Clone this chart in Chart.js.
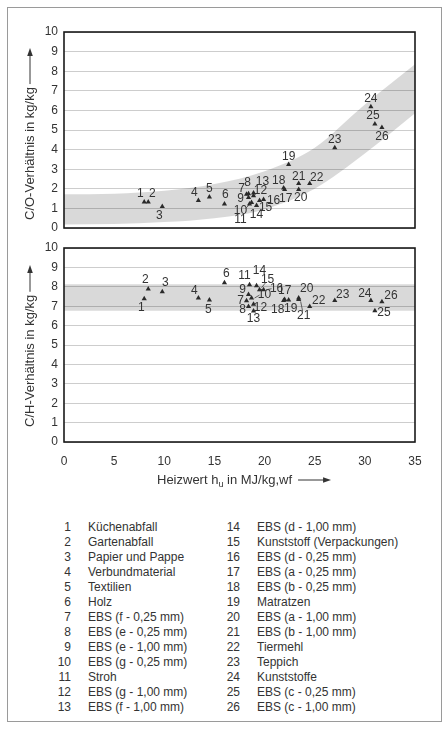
<!DOCTYPE html>
<html>
<head>
<meta charset="utf-8">
<script src="https://cdn.jsdelivr.net/npm/chart.js@4/dist/chart.umd.min.js"></script>
<style>
  body { margin: 0; background: #fff; }
  #page { position: relative; width: 445px; height: 729px; overflow: hidden; font-family: "Liberation Sans", Arial, sans-serif; color: #333; }
  #frame { position: absolute; left: 7px; top: 7px; width: 435px; height: 715px; border: 1px solid #9a9a9a; box-sizing: border-box; }
  canvas { position: absolute; left: 0; }
  #legend { position: absolute; left: 0; top: 520px; font-size: 12px; line-height: 15px; }
  .row { position: absolute; white-space: nowrap; }
  .num { position: absolute; text-align: right; width: 24px; }
  .name { position: absolute; }
</style>
</head>
<body>
<div id="page">
  <div id="frame"></div>
  <canvas id="coChart" width="445" height="240" style="top:0"></canvas>
  <canvas id="chChart" width="445" height="266" style="top:234px"></canvas>
  <div id="legend"></div>
</div>
<script>
// heating value per material (MJ/kg, wf)
const heizwert = [8.0, 8.4, 9.8, 13.4, 14.5, 16.0, 18.2, 18.4, 18.4, 18.7, 18.5, 18.9, 18.9, 19.2, 19.5, 19.9, 22.0, 21.9, 22.4, 23.4, 23.4, 24.5, 27.0, 30.6, 31.0, 31.7];
// C/O ratio (top chart)
const coRatio = [1.33, 1.33, 1.10, 1.40, 1.58, 1.22, 1.72, 1.75, 1.55, 1.30, 1.22, 1.65, 1.78, 1.15, 1.40, 1.45, 1.96, 2.04, 3.24, 1.96, 2.27, 2.27, 4.09, 6.18, 5.30, 5.13];
// C/H ratio (bottom chart)
const chRatio = [7.39, 7.89, 7.75, 7.42, 7.32, 8.21, 7.28, 6.98, 7.60, 7.42, 8.10, 7.10, 6.75, 8.05, 7.85, 7.85, 7.34, 7.30, 7.32, 7.42, 7.35, 6.99, 7.30, 7.30, 6.77, 7.23];

// grey bands
const coBandX = [0, 5, 10, 15, 20, 25, 30, 35];
const coBandUpper = [1.72, 1.75, 1.9, 2.25, 2.9, 4.1, 6.3, 8.35];
const coBandLower = [0.18, 0.2, 0.3, 0.5, 0.95, 2.0, 3.8, 5.85];
const chBandX = [0, 35];
const chBandUpper = [8.13, 8.13];
const chBandLower = [6.77, 6.77];

const xTicks = [0, 5, 10, 15, 20, 25, 30, 35];
const yTicks = [0, 1, 2, 3, 4, 5, 6, 7, 8, 9, 10];

const materials = [
  "Küchenabfall", "Gartenabfall", "Papier und Pappe", "Verbundmaterial", "Textilien", "Holz",
  "EBS (f - 0,25 mm)", "EBS (e - 0,25 mm)", "EBS (e - 1,00 mm)", "EBS (g - 0,25 mm)", "Stroh",
  "EBS (g - 1,00 mm)", "EBS (f - 1,00 mm)", "EBS (d - 1,00 mm)", "Kunststoff (Verpackungen)",
  "EBS (d - 0,25 mm)", "EBS (a - 0,25 mm)", "EBS (b - 0,25 mm)", "Matratzen", "EBS (a - 1,00 mm)",
  "EBS (b - 1,00 mm)", "Tiermehl", "Teppich", "Kunststoffe", "EBS (c - 0,25 mm)", "EBS (c - 1,00 mm)"
];

// label offsets (px) from each triangle
const coLabelPos = [
  [-4, -8], [4, -8], [-3, 9], [-4, -8], [0, -8], [1, -9], [-5, -6], [-1, -11], [-8, 1], [-11, 8],
  [-9, 16], [7, -5], [9, -11], [0, 9], [6, 7], [10, 1], [1, 9], [-5, -7], [0, -8], [2, 8],
  [0, -7], [7, -6], [0, -8], [0, -8], [-2, -8], [0, 9]
];
const chLabelPos = [
  [-3, 9], [-3, -9], [3, -9], [-4, -7], [-1, 10], [2, -9], [-6, 0], [-6, 3], [-6, -5], [13, -3],
  [-5, -9], [7, 3], [0, 8], [3, -15], [8, -10], [13, -1], [0, -9], [-6, 9], [2, 9], [8, -9],
  [5, 16], [9, -6], [8, -6], [-6, -7], [9, 2], [9, -6]
];
// small leader strokes [index, x0, y0, x1, y1] relative to the triangle
const coLeaders = [[9, -2, 2, -6, 6]];
const chLeaders = [[9, 3, 0, 8, -3], [14, 2, -2, 6, -7], [15, 3, 0, 8, -1], [20, 2, 2, 4, 12]];

const textColor = '#333333';

const frameAndLabels = {
  id: 'frameAndLabels',
  afterDatasetsDraw(chart, args, opts) {
    const { ctx, chartArea: a } = chart;
    const meta = chart.getDatasetMeta(2);
    ctx.save();
    ctx.fillStyle = textColor;
    ctx.font = '12px "Liberation Sans", Arial, sans-serif';
    ctx.textAlign = 'center';
    ctx.textBaseline = 'middle';
    meta.data.forEach((el, i) => {
      const off = opts.labelPos[i];
      ctx.fillText(String(i + 1), el.x + off[0], el.y + off[1]);
    });
    ctx.strokeStyle = '#444';
    ctx.lineWidth = 0.8;
    opts.leaders.forEach(l => {
      const el = meta.data[l[0]];
      ctx.beginPath();
      ctx.moveTo(el.x + l[1], el.y + l[2]);
      ctx.lineTo(el.x + l[3], el.y + l[4]);
      ctx.stroke();
    });
    ctx.strokeStyle = '#1a1a1a';
    ctx.lineWidth = 1.6;
    ctx.strokeRect(a.left, a.top, a.right - a.left, a.bottom - a.top);
    ctx.restore();
  },
  afterDraw(chart, args, opts) {
    const { ctx, chartArea: a } = chart;
    ctx.save();
    ctx.fillStyle = textColor;
    ctx.strokeStyle = textColor;
    ctx.font = '13px "Liberation Sans", Arial, sans-serif';
    // rotated y title with arrow
    ctx.translate(30, a.bottom - opts.titleStart);
    ctx.rotate(-Math.PI / 2);
    ctx.textAlign = 'left';
    ctx.textBaseline = 'middle';
    ctx.fillText(opts.yTitle, 0, 0);
    const w = ctx.measureText(opts.yTitle).width;
    const tip = (a.bottom - opts.titleStart) - (a.top + opts.arrowTip);
    ctx.lineWidth = 1;
    ctx.beginPath();
    ctx.moveTo(w + 3, 0);
    ctx.lineTo(tip - 6, 0);
    ctx.stroke();
    ctx.beginPath();
    ctx.moveTo(tip, 0);
    ctx.lineTo(tip - 8, -2.8);
    ctx.lineTo(tip - 8, 2.8);
    ctx.closePath();
    ctx.fill();
    ctx.restore();

    if (opts.xTitle) {
      ctx.save();
      ctx.fillStyle = textColor;
      ctx.strokeStyle = textColor;
      ctx.textBaseline = 'alphabetic';
      ctx.textAlign = 'left';
      let x = 157;
      const y = a.bottom + 42;
      ctx.font = '13px "Liberation Sans", Arial, sans-serif';
      ctx.fillText('Heizwert h', x, y);
      x += ctx.measureText('Heizwert h').width;
      ctx.font = '9px "Liberation Sans", Arial, sans-serif';
      ctx.fillText('u', x, y + 3);
      x += ctx.measureText('u').width;
      ctx.font = '13px "Liberation Sans", Arial, sans-serif';
      ctx.fillText(' in MJ/kg,wf', x, y);
      x += ctx.measureText(' in MJ/kg,wf').width;
      ctx.lineWidth = 1;
      ctx.beginPath();
      ctx.moveTo(x + 6, y - 4);
      ctx.lineTo(x + 32, y - 4);
      ctx.stroke();
      ctx.beginPath();
      ctx.moveTo(x + 39, y - 4);
      ctx.lineTo(x + 31, y - 6.8);
      ctx.lineTo(x + 31, y - 1.2);
      ctx.closePath();
      ctx.fill();
      ctx.restore();
    }
  }
};

function makeChart(id, values, bandX, upper, lower, showX, extra) {
  const toPts = (xs, ys) => xs.map((x, i) => ({ x: x, y: ys[i] }));
  return new Chart(document.getElementById(id), {
    type: 'scatter',
    data: {
      datasets: [
        {
          type: 'line',
          data: toPts(bandX, upper),
          borderWidth: 0,
          pointRadius: 0,
          fill: '+1',
          backgroundColor: 'rgba(0,0,0,0.15)',
          cubicInterpolationMode: 'monotone',
          order: 2
        },
        {
          type: 'line',
          data: toPts(bandX, lower),
          borderWidth: 0,
          pointRadius: 0,
          fill: false,
          cubicInterpolationMode: 'monotone',
          order: 3
        },
        {
          data: toPts(heizwert, values),
          pointStyle: 'triangle',
          pointRadius: 3,
          backgroundColor: '#2a2a2a',
          borderColor: '#2a2a2a',
          borderWidth: 0,
          order: 1
        }
      ]
    },
    options: {
      responsive: false,
      animation: false,
      devicePixelRatio: 1,
      layout: { padding: extra.padding },
      plugins: {
        legend: { display: false },
        tooltip: { enabled: false },
        frameAndLabels: extra.plugin
      },
      scales: {
        x: {
          type: 'linear',
          min: xTicks[0], max: xTicks[xTicks.length - 1],
          display: showX,
          grid: { display: false },
          border: { display: false },
          ticks: {
            count: xTicks.length,
            color: textColor, font: { family: 'Liberation Sans', size: 12 },
            padding: 4, maxRotation: 0, autoSkip: false
          },
          afterFit: s => { s.height = showX ? 24 : 0; }
        },
        y: {
          type: 'linear',
          min: yTicks[0], max: yTicks[yTicks.length - 1],
          grid: { color: '#cdcdcd', lineWidth: 1, drawTicks: false },
          border: { display: false },
          ticks: {
            count: yTicks.length,
            color: textColor, font: { family: 'Liberation Sans', size: 12, lineHeight: 1 },
            padding: 6, autoSkip: false
          },
          afterFit: s => { s.width = 64; }
        }
      }
    },
    plugins: [frameAndLabels]
  });
}

makeChart('coChart', coRatio, coBandX, coBandUpper, coBandLower, false, {
  padding: { left: 0, right: 30, top: 32, bottom: 12 },
  plugin: { labelPos: coLabelPos, leaders: coLeaders, yTitle: 'C/O-Verhältnis in kg/kg', titleStart: 8, arrowTip: 16 }
});
makeChart('chChart', chRatio, chBandX, chBandUpper, chBandLower, true, {
  padding: { left: 0, right: 30, top: 14, bottom: 34 },
  plugin: { labelPos: chLabelPos, leaders: chLeaders, yTitle: 'C/H-Verhältnis in kg/kg', titleStart: 15, arrowTip: 17, xTitle: true }
});

// legend in two columns of 13
const legend = document.getElementById('legend');
materials.forEach((name, i) => {
  const col = i < 13 ? 0 : 1;
  const row = i % 13;
  const div = document.createElement('div');
  div.className = 'row';
  div.style.top = (row * 15) + 'px';
  div.style.left = (col === 0 ? 47 : 216) + 'px';
  div.innerHTML = '<span class="num">' + (i + 1) + '</span><span class="name" style="left:41px">' + name + '</span>';
  legend.appendChild(div);
});
</script>
</body>
</html>
